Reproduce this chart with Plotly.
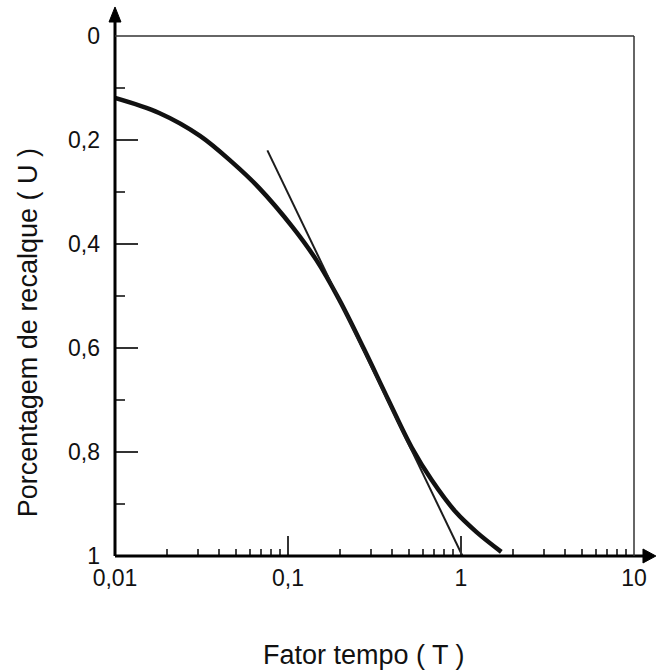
import plotly.graph_objects as go

# ---- data ----
T_curve = [0.01, 0.018, 0.031, 0.048, 0.068, 0.106, 0.146, 0.197, 0.275, 0.378, 0.52, 0.677, 0.93, 1.23, 1.71]
U_curve = [0.119, 0.148, 0.192, 0.244, 0.292, 0.367, 0.431, 0.506, 0.602, 0.698, 0.792, 0.854, 0.915, 0.954, 0.992]

T_tangent = [0.076, 1.02]
U_tangent = [0.22, 1.0]

x_tickvals = [0.01, 0.1, 1, 10]
x_ticktext = ["0,01", "0,1", "1", "10"]
x_minor = [m * d for d in (0.01, 0.1, 1) for m in range(2, 10)]

y_tickvals = [0, 0.2, 0.4, 0.6, 0.8, 1]
y_ticktext = ["0", "0,2", "0,4", "0,6", "0,8", "1"]
y_minor = [0.1, 0.3, 0.5, 0.7, 0.9]

x_title = "Fator tempo ( T )"
y_title = "Porcentagem de recalque ( U )"

FONT = "Liberation Sans, Arial, sans-serif"

fig = go.Figure()
fig.add_trace(go.Scatter(x=T_curve, y=U_curve, mode="lines",
                         line=dict(color="#111111", width=4.5, shape="spline", smoothing=1.0),
                         hoverinfo="skip", showlegend=False))
fig.add_trace(go.Scatter(x=T_tangent, y=U_tangent, mode="lines",
                         line=dict(color="#1c1c1c", width=2),
                         hoverinfo="skip", showlegend=False))

fig.update_xaxes(type="log", range=[-2, 1], showgrid=False, zeroline=False, showline=False,
                 tickmode="array", tickvals=x_tickvals, ticktext=x_ticktext,
                 ticks="inside", ticklen=20, tickwidth=1.5, tickcolor="#333333",
                 ticklabelstandoff=6,
                 tickfont=dict(family=FONT, size=23, color="#111111"),
                 minor=dict(tickmode="array", tickvals=x_minor, ticks="inside",
                            ticklen=7, tickwidth=1.5, tickcolor="#444444"))
fig.update_yaxes(range=[1, 0], showgrid=False, zeroline=False, showline=False,
                 tickmode="array", tickvals=y_tickvals, ticktext=y_ticktext,
                 ticks="inside", ticklen=23, tickwidth=1.5, tickcolor="#333333",
                 ticklabelstandoff=14,
                 tickfont=dict(family=FONT, size=23, color="#111111"),
                 minor=dict(tickmode="array", tickvals=y_minor, ticks="inside",
                            ticklen=10, tickwidth=1.5, tickcolor="#444444"))

shapes = [
    dict(type="line", xref="paper", yref="paper", x0=0, y0=0, x1=1.03, y1=0,
         line=dict(color="#000000", width=3)),
    dict(type="path", xref="paper", yref="paper",
         path="M 1.0422,0 L 1.0173,0.01346 L 1.0173,-0.01346 Z",
         fillcolor="#000000", line=dict(color="#000000", width=1)),
    dict(type="line", xref="paper", yref="paper", x0=0, y0=0, x1=0, y1=1.04,
         line=dict(color="#000000", width=3)),
    dict(type="path", xref="paper", yref="paper",
         path="M 0,1.0558 L -0.0115,1.0269 L 0.0115,1.0269 Z",
         fillcolor="#000000", line=dict(color="#000000", width=1)),
    dict(type="line", xref="paper", yref="paper", x0=0, y0=1, x1=1, y1=1,
         line=dict(color="#333333", width=1.5)),
    dict(type="line", xref="paper", yref="paper", x0=1, y0=0, x1=1, y1=1,
         line=dict(color="#333333", width=1.5)),
]

annotations = [
    dict(text=x_title, xref="paper", yref="paper", x=0.48, y=-0.19,
         xanchor="center", yanchor="middle", showarrow=False,
         font=dict(family=FONT, size=27, color="#111111")),
    dict(text=y_title, xref="paper", yref="paper", x=-0.167, y=0.429,
         xanchor="center", yanchor="middle", showarrow=False, textangle=-90,
         font=dict(family=FONT, size=27, color="#111111")),
]

fig.update_layout(width=659, height=672, autosize=False,
                  margin=dict(l=115, r=23, t=36, b=116),
                  paper_bgcolor="white", plot_bgcolor="white",
                  shapes=shapes, annotations=annotations, showlegend=False)

fig.write_html("out.html")
